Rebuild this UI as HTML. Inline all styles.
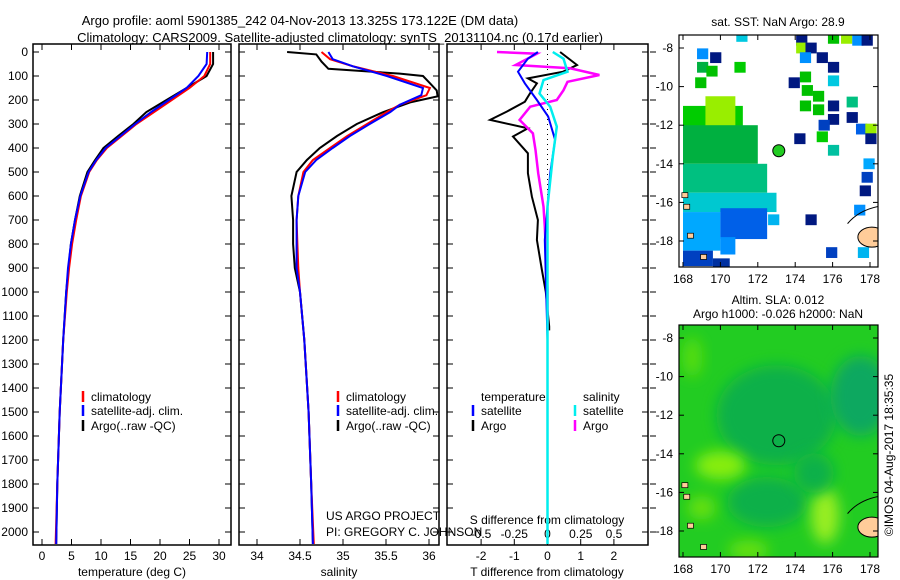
<!DOCTYPE html>
<html><head><meta charset="utf-8">
<style>
html,body{margin:0;padding:0;background:#fff;}
svg{display:block;font-family:"Liberation Sans",sans-serif;}
text{font-size:12px;fill:#000;}
</style></head>
<body>
<svg id="chart" width="900" height="580" viewBox="0 0 900 580" xmlns="http://www.w3.org/2000/svg">
<defs>
<clipPath id="c1"><rect x="679" y="35" width="199" height="232"/></clipPath>
<clipPath id="c2"><rect x="679" y="325" width="199" height="232"/></clipPath>
<filter id="bl" x="-50%" y="-50%" width="200%" height="200%"><feGaussianBlur stdDeviation="7"/></filter>
</defs>
<text x="300" y="25" text-anchor="middle" style="font-size:13px">Argo profile: aoml 5901385_242 04-Nov-2013 13.325S 173.122E (DM data)</text>
<text x="340" y="42" text-anchor="middle" style="font-size:13px">Climatology: CARS2009. Satellite-adjusted climatology: synTS_20131104.nc (0.17d earlier)</text>
<g id="g"></g>
</svg>
<script>
// ---- data ----
const depthT = [0,50,100,150,200,250,300,350,400,450,500,600,700,800,900,1000,1200,1500,1800,2050];
const tempArgo = [29.0,29.0,27.9,24.5,21.1,17.7,15.5,12.9,10.4,9.0,7.7,6.4,5.6,4.9,4.5,4.1,3.6,3.0,2.6,2.4];
const tempClim = [28.5,28.5,27.5,25.0,22.0,19.0,16.0,13.5,11.0,9.3,8.0,6.6,5.8,5.1,4.6,4.2,3.6,3.0,2.6,2.3];
const tempSat  = [28.0,27.9,26.5,24.5,21.5,18.5,15.8,13.3,10.8,9.2,7.9,6.5,5.6,4.9,4.4,4.1,3.6,3.0,2.6,2.4];
const depthSA = [0,10,40,70,90,100,130,160,185,210,250,300,350,400,450,500,600,700,800,900,1000,1200,1500,1800,2050];
const salArgo = [34.35,34.69,34.75,34.83,35.66,35.93,36.01,36.09,36.10,35.78,35.47,35.16,34.93,34.73,34.58,34.46,34.40,34.42,34.42,34.44,34.50,34.55,34.60,34.63,34.65];
const depthS = [0,30,60,100,150,180,220,250,300,350,400,450,500,600,700,800,900,1000,1200,1500,1800,2050];
const salClim = [34.75,34.85,35.12,35.58,36.01,35.97,35.66,35.51,35.28,35.05,34.85,34.65,34.54,34.48,34.46,34.47,34.48,34.50,34.55,34.60,34.63,34.66];
const salSat  = [34.83,34.88,35.12,35.51,35.93,35.91,35.66,35.55,35.31,35.08,34.88,34.69,34.56,34.48,34.46,34.46,34.46,34.50,34.55,34.60,34.63,34.65];
const dDepthTA = [0,54,82,110,131,173,207,248,283,318,352,422,505,603,700,783,908,1000,1144,1160];
const dTempArgo = [0.38,0.89,0.47,-0.59,-0.32,-0.53,-0.68,-1.22,-1.73,-0.59,-1.04,-0.59,-0.59,-0.47,-0.29,-0.32,-0.17,-0.05,0.05,0.05];
const dDepthSA = [0,7,54,68,96,124,159,200,228,283,339,408,505,644,728,992,1160];
const dSalArgo = [-0.38,-0.08,-0.24,0.17,0.39,0.15,0.12,0.07,-0.13,-0.21,-0.11,-0.09,-0.07,-0.03,-0.02,0.0,0.0];
const dDepthTS = [0,28,82,131,200,269,366,505,783,1200,1500,2050];
const dTempSat = [-0.29,-0.59,-0.89,-0.68,-0.32,0.02,0.23,0.08,-0.08,0.0,0.0,0.0];
const dDepthSS = [0,28,82,117,173,228,311,436,644,1200,2050];
const dSalSat = [0.04,0.12,0.15,-0.03,-0.06,0.02,0.07,0.04,0.0,0.0,0.0];
const depthTicks = [0,100,200,300,400,500,600,700,800,900,1000,1100,1200,1300,1400,1500,1600,1700,1800,1900,2000];
const tempTicks = [0,5,10,15,20,25,30];
const salTicks = [34,34.5,35,35.5,36];
const dTTicks = [-2,-1,0,1,2];
const dSTicks = [-0.5,-0.25,0,0.25,0.5];
const lonTicks = [168,170,172,174,176,178];
const latTicks = [-8,-10,-12,-14,-16,-18];
const argoLon = 173.122, argoLat = -13.325;

// ---- helpers ----
const NS='http://www.w3.org/2000/svg';
const G=document.getElementById('g');
function mk(tag,attrs,parent){const e=document.createElementNS(NS,tag);for(const k in attrs)e.setAttribute(k,attrs[k]);(parent||G).appendChild(e);return e;}
function txt(x,y,s,anchor,size){const t=mk('text',{x:x,y:y,'text-anchor':anchor||'middle'});if(size)t.style.fontSize=size+'px';t.textContent=s;return t;}
const yD = d => 52 + d*0.24;
const xT = t => 42 + t*5.9;
const xS = s => 257 + (s-34)*86;
const xDT = v => 547.5 + v*33.2;
const xDS = v => 547.5 + v*133;
const TOP=44, BOT=545;

function frame(x0,x1,name){
  const r=mk('rect',{x:x0,y:TOP,width:x1-x0,height:BOT-TOP,fill:'none',stroke:'#000','stroke-width':1.5});
  
  
  depthTicks.forEach(d=>{
    mk('line',{x1:x0,x2:x0+6,y1:yD(d),y2:yD(d),stroke:'#000'});
    mk('line',{x1:x1-6,x2:x1,y1:yD(d),y2:yD(d),stroke:'#000'});
  });
}
function line(xs,ds,fx,color,name,w){
  const pts=xs.map((v,i)=>fx(v).toFixed(1)+','+yD(ds[i]).toFixed(1)).join(' ');
  const p=mk('polyline',{points:pts,fill:'none',stroke:color,'stroke-width':w||2});
  
  
}
function xticks(ticks,fx,y){
  ticks.forEach(t=>{
    mk('line',{x1:fx(t),x2:fx(t),y1:BOT,y2:BOT-6,stroke:'#000'});
    mk('line',{x1:fx(t),x2:fx(t),y1:TOP,y2:TOP+6,stroke:'#000'});
    const l=txt(fx(t),y,String(t));
    
    
  });
}
function legendEntry(x,y,color,label){
  mk('line',{x1:x,x2:x,y1:y-10,y2:y+1,stroke:color,'stroke-width':2.5});
  const t=txt(x+8,y,label,'start');
  
  
}

// ---- temperature panel ----
frame(33,231,'temperature-panel');
depthTicks.forEach(d=>{const t=txt(28,yD(d)+4,String(d),'end');

});
xticks(tempTicks,xT,560);
const tl=txt(132,576,'temperature (deg C)');


line(tempArgo,depthT,xT,'#000','temp-argo-line');
line(tempClim,depthT,xT,'#f00','temp-climatology-line');
line(tempSat,depthT,xT,'#00f','temp-satellite-line');
legendEntry(83,401,'#f00','climatology');
legendEntry(83,415,'#00f','satellite-adj. clim.');
legendEntry(83,430,'#000','Argo(..raw -QC)');

// ---- salinity panel ----
frame(239,439,'salinity-panel');
xticks(salTicks,xS,560);
const sl=txt(339,576,'salinity');


line(salArgo,depthSA,xS,'#000','sal-argo-line');
line(salClim,depthS,xS,'#f00','sal-climatology-line');
line(salSat,depthS,xS,'#00f','sal-satellite-line');
legendEntry(338,401,'#f00','climatology');
legendEntry(338,415,'#00f','satellite-adj. clim.');
legendEntry(338,430,'#000','Argo(..raw -QC)');
const p1=txt(326,520,'US ARGO PROJECT','start');


const p2=txt(326,536,'PI: GREGORY C. JOHNSON','start');



// ---- difference panel ----
frame(447,648,'difference-panel');
depthTicks.forEach(d=>mk('line',{x1:650,x2:656,y1:yD(d),y2:yD(d),stroke:'#000'}));
mk('line',{x1:547.5,x2:547.5,y1:TOP,y2:BOT,stroke:'#000','stroke-dasharray':'1,4'});
xticks(dTTicks,xDT,560);
dSTicks.forEach(t=>{const l=txt(xDS(t),538,String(t));

});
const sd=txt(547,524,'S difference from climatology');


const td=txt(547,576,'T difference from climatology');


line(dTempArgo,dDepthTA,xDT,'#000','dtemp-argo-line');
line(dSalArgo,dDepthSA,xDS,'#f0f','dsal-argo-line',2.5);
line(dTempSat,dDepthTS,xDT,'#00f','dtemp-satellite-line');
line(dSalSat,dDepthSS,xDS,'#0ee','dsal-satellite-line',2.5);
const lt=txt(481,401,'temperature','start');


const ls=txt(583,401,'salinity','start');


legendEntry(473,415,'#00f','satellite');
legendEntry(473,430,'#000','Argo');
legendEntry(575,415,'#0ee','satellite');
legendEntry(575,430,'#f0f','Argo');

// ---- maps ----
const lonX = l => 683 + (l-168)*18.7;
function map(oy,name,clip){
  const latY = l => oy + 48 + (-8-l)*19.3;
  const g=mk('g',{'clip-path':'url(#'+clip+')'});
  
  
  return {g,latY,oy};
}
function cell(m,l0,l1,a0,a1,c){mk('rect',{x:lonX(l0),y:m.latY(a0),width:lonX(l1)-lonX(l0),height:m.latY(a1)-m.latY(a0),fill:c},m.g);}
function mapFrame(m,filled){
  const y0=m.oy+35,y1=m.oy+267;
  // land
  mk('ellipse',{cx:lonX(178.1),cy:m.latY(-17.8),rx:14,ry:10,fill:'#ffcc99',stroke:'#000'},m.g);
  mk('path',{d:`M${lonX(176.8)} ${m.latY(-17.1)} Q${lonX(177.4)} ${m.latY(-16.4)} ${lonX(178.5)} ${m.latY(-16.2)}`,fill:'none',stroke:'#000'},m.g);
  [[168.2,-16.2],[168.4,-17.7],[169.1,-18.8],[168.1,-15.6]].forEach(([l,a])=>mk('rect',{x:lonX(l)-3,y:m.latY(a)-2,width:6,height:5,fill:'#ffcc99',stroke:'#000','stroke-width':0.7},m.g));
  mk('rect',{x:679,y:y0,width:199,height:y1-y0,fill:'none',stroke:'#000','stroke-width':1.2});
  lonTicks.forEach(l=>{mk('line',{x1:lonX(l),x2:lonX(l),y1:y1,y2:y1-5,stroke:'#000'});mk('line',{x1:lonX(l),x2:lonX(l),y1:y0,y2:y0+5,stroke:'#000'});
    const t=txt(lonX(l),y1+16,String(l));
    
    });
  latTicks.forEach(a=>{mk('line',{x1:679,x2:684,y1:m.latY(a),y2:m.latY(a),stroke:'#000'});mk('line',{x1:873,x2:878,y1:m.latY(a),y2:m.latY(a),stroke:'#000'});
    const t=txt(673,m.latY(a)+4,String(a),'end');
    
    });
  mk('circle',{cx:lonX(argoLon),cy:m.latY(argoLat),r:6,fill:filled?'#22cc22':'none',stroke:'#000'});
}
// top SST map
const m1=map(0,'sst-map','c1');
const sstCells=[];
cell(m1,168,171.2,-11,-12.2,'#00cc00');
cell(m1,169.2,170.8,-10.5,-12.6,'#99ee00');
cell(m1,168,172,-12,-14,'#00b040');
cell(m1,168,172.5,-14,-15.5,'#00c080');
cell(m1,168,173,-15.5,-16.5,'#00c8d0');
cell(m1,168,170,-16.5,-18.5,'#00a8ff');
cell(m1,170,172.5,-16.3,-17.9,'#0060e8');
cell(m1,170,170.8,-17.8,-18.7,'#0090ff');
cell(m1,168,169.6,-18.5,-19.3,'#0040c0');
cell(m1,169.6,170.5,-18.9,-19.5,'#0030a0');
[[171.1,-7.4,'#00c8e0'],[169,-8.3,'#0090ff'],[169.7,-8.5,'#001880'],[169,-9,'#00b040'],[169.5,-9.2,'#00c000'],[171,-9,'#00cc00'],[168.9,-9.8,'#00c000'],
 [174.3,-7.6,'#001880'],[174.3,-8,'#99ee00'],[174.8,-8,'#001880'],[174.5,-8.5,'#0090ff'],[175.4,-8.5,'#001880'],[176,-9,'#001880'],[176,-9.7,'#00c8e0'],
 [174.5,-9.5,'#00c000'],[173.9,-9.8,'#001880'],[174.6,-10.2,'#00c000'],[175.2,-10.5,'#00c000'],[174.5,-11,'#00c000'],[175.2,-11.2,'#00c000'],[176,-11,'#001880'],
 [176,-11.7,'#001880'],[175.5,-12,'#0040c0'],[177,-10.8,'#00c080'],[177,-11.6,'#001880'],[177.5,-12.2,'#0060e8'],[178,-12.2,'#99ee00'],[178,-12.7,'#001880'],
 [174.2,-12.7,'#001880'],[175.4,-12.6,'#00cc00'],[176,-13.3,'#00c0a0'],[177.9,-14,'#00a8ff'],[177.8,-14.7,'#0040c0'],[177.7,-15.4,'#001880'],[177.4,-16.4,'#0090ff'],
 [172.8,-16.9,'#00b4f0'],[174.8,-16.9,'#001880'],[175.9,-18.6,'#0040c0'],[177.6,-18.6,'#00b4f0'],[176,-7.5,'#00c000'],[176.7,-7.5,'#99ee00'],[177.3,-7.6,'#0090ff'],[177.8,-7.6,'#001880']
].forEach(([l,a,c])=>cell(m1,l-0.25,l+0.35,a+0.28,a-0.28,c));
mapFrame(m1,true);
const st=txt(778,26,'sat. SST: NaN Argo: 28.9');



// bottom SLA map
const m2=map(290,'sla-map','c2');
cell(m2,167.5,179,-7,-19.6,'#22cc22');
const blobs=[[173,-12,60,50,'#10b048'],[177.5,-11,30,40,'#10a860'],[172.5,-16.5,40,25,'#10b048'],[170,-14.6,25,14,'#88ee10'],[175.6,-17.2,14,28,'#99ee20'],
 [169,-16.8,14,12,'#66e010'],[171.5,-19,20,10,'#66e010'],[168.5,-9,10,20,'#55dd10'],[175,-15,20,20,'#10b048']];
blobs.forEach(([l,a,rx,ry,c])=>mk('ellipse',{cx:lonX(l),cy:m2.latY(a),rx:rx,ry:ry,fill:c,filter:'url(#bl)'},m2.g));
mapFrame(m2,false);
const a1=txt(778,304,'Altim. SLA: 0.012');


const a2=txt(778,318,'Argo h1000: -0.026 h2000: NaN');


const cp=mk('text',{x:0,y:0,transform:'translate(893,455) rotate(-90)','text-anchor':'middle'});
cp.textContent='©IMOS 04-Aug-2017 18:35:35';


</script>
</body></html>
